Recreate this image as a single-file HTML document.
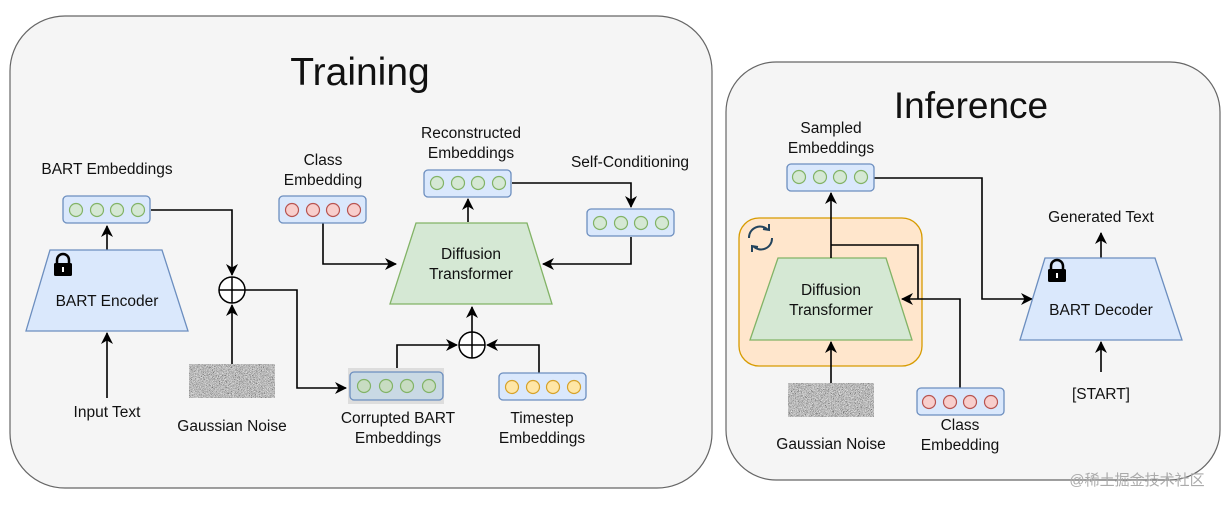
<!DOCTYPE html>
<html><head><meta charset="utf-8"><style>
html,body{margin:0;padding:0;background:#fff;}
svg{display:block;}
text{font-family:"Liberation Sans",Arial,sans-serif;font-size:15.5px;fill:#111;text-anchor:middle;}
</style></head><body>
<svg width="1232" height="505" viewBox="0 0 1232 505" xmlns="http://www.w3.org/2000/svg">
<defs>
<marker id="a" markerWidth="12" markerHeight="12" refX="11" refY="6" orient="auto" markerUnits="userSpaceOnUse">
<path d="M0,0 L12,6 L0,12 L3.5,6 Z" fill="#000"/>
</marker>
<filter id="n" x="0" y="0" width="100%" height="100%">
<feTurbulence type="fractalNoise" baseFrequency="1.5" numOctaves="2" seed="3"/>
<feColorMatrix type="matrix" values="0.9 0.9 0.9 0 -0.85  0.9 0.9 0.9 0 -0.85  0.9 0.9 0.9 0 -0.85  0 0 0 0 1"/>
</filter>
<g id="emb"><rect x="0" y="0" width="87" height="27" rx="4" fill="#dae8fc" stroke="#6c8ebf" stroke-width="1.3"/></g>
</defs>
<rect width="1232" height="505" fill="#fff"/>
<rect x="10" y="16" width="702" height="472" rx="55" fill="#f5f5f5" stroke="#666" stroke-width="1.2"/>
<text x="360" y="85" style="font-size:39px">Training</text>
<rect x="726" y="62" width="494" height="418" rx="50" fill="#f5f5f5" stroke="#666" stroke-width="1.2"/>
<text x="971" y="118" style="font-size:37px">Inference</text>

<g fill="none" stroke="#000" stroke-width="1.6">
<path d="M151,210 H232 V275" marker-end="url(#a)"/>
<path d="M232,364 V305" marker-end="url(#a)"/>
<path d="M245,290 H297 V388 H346" marker-end="url(#a)"/>
<path d="M107,250 V226" marker-end="url(#a)"/>
<path d="M107,398 V333" marker-end="url(#a)"/>
<path d="M323,223 V264 H396" marker-end="url(#a)"/>
<path d="M468,222 V199" marker-end="url(#a)"/>
<path d="M512,183 H631 V207" marker-end="url(#a)"/>
<path d="M631,237 V264 H543" marker-end="url(#a)"/>
<path d="M397,370 V345 H457" marker-end="url(#a)"/>
<path d="M539,373 V345 H487" marker-end="url(#a)"/>
<path d="M472,332 V307" marker-end="url(#a)"/>
</g>

<polygon points="50,250 162,250 188,331 26,331" fill="#dae8fc" stroke="#6c8ebf" stroke-width="1.3"/>
<text x="107" y="306">BART Encoder</text>
<g transform="translate(53,254)"><path d="M4,9 V6 a6,6 0 0 1 12,0 V9" fill="none" stroke="#000" stroke-width="2.5"/><rect x="1" y="9" width="18" height="13" rx="1.5" fill="#000"/><rect x="9" y="13" width="2" height="5" fill="#fff"/></g>

<use href="#emb" x="63" y="196"/>
<g fill="#d5e8d4" stroke="#82b366" stroke-width="1.2"><circle cx="76" cy="210" r="6.5"/><circle cx="97" cy="210" r="6.5"/><circle cx="117" cy="210" r="6.5"/><circle cx="138" cy="210" r="6.5"/></g>
<text x="107" y="174">BART Embeddings</text>
<text x="107" y="417">Input Text</text>

<g fill="#fff" stroke="#000" stroke-width="1.5"><circle cx="232" cy="290" r="13"/><path d="M219,290 H245 M232,277 V303"/></g>
<rect x="189" y="364" width="86" height="34" filter="url(#n)"/>
<text x="232" y="431">Gaussian Noise</text>

<use href="#emb" x="279" y="196"/>
<g fill="#f8cecc" stroke="#b85450" stroke-width="1.2"><circle cx="292" cy="210" r="6.5"/><circle cx="313" cy="210" r="6.5"/><circle cx="333" cy="210" r="6.5"/><circle cx="354" cy="210" r="6.5"/></g>
<text x="323" y="165">Class</text><text x="323" y="185">Embedding</text>

<use href="#emb" x="424" y="170"/>
<g fill="#d5e8d4" stroke="#82b366" stroke-width="1.2"><circle cx="437" cy="183" r="6.5"/><circle cx="458" cy="183" r="6.5"/><circle cx="478" cy="183" r="6.5"/><circle cx="499" cy="183" r="6.5"/></g>
<text x="471" y="138">Reconstructed</text><text x="471" y="158">Embeddings</text>

<use href="#emb" x="587" y="209"/>
<g fill="#d5e8d4" stroke="#82b366" stroke-width="1.2"><circle cx="600" cy="223" r="6.5"/><circle cx="621" cy="223" r="6.5"/><circle cx="641" cy="223" r="6.5"/><circle cx="662" cy="223" r="6.5"/></g>
<text x="630" y="167">Self-Conditioning</text>

<polygon points="416,223 527,223 552,304 390,304" fill="#d5e8d4" stroke="#82b366" stroke-width="1.3"/>
<text x="471" y="259">Diffusion</text><text x="471" y="279">Transformer</text>

<g fill="#fff" stroke="#000" stroke-width="1.5"><circle cx="472" cy="345" r="13"/><path d="M459,345 H485 M472,332 V358"/></g>

<rect x="348" y="368" width="96" height="36" fill="#ddd"/>
<rect x="350" y="372" width="93" height="28" rx="4" fill="#c9d9e4" stroke="#6c8ebf" stroke-width="1.3"/>
<g fill="#c8dcc2" stroke="#82b366" stroke-width="1.2"><circle cx="364" cy="386" r="6.5"/><circle cx="386" cy="386" r="6.5"/><circle cx="407" cy="386" r="6.5"/><circle cx="429" cy="386" r="6.5"/></g>
<text x="398" y="423">Corrupted BART</text><text x="398" y="443">Embeddings</text>

<use href="#emb" x="499" y="373"/>
<g fill="#ffe6a6" stroke="#d6a22a" stroke-width="1.2"><circle cx="512" cy="387" r="6.5"/><circle cx="533" cy="387" r="6.5"/><circle cx="553" cy="387" r="6.5"/><circle cx="574" cy="387" r="6.5"/></g>
<text x="542" y="423">Timestep</text><text x="542" y="443">Embeddings</text>

<rect x="739" y="218" width="183" height="148" rx="20" fill="#ffe6cc" stroke="#d79b00" stroke-width="1.3"/>
<g fill="none" stroke="#23445d" stroke-width="2">
<path d="M749,238 a11,11 0 0 1 19,-8" /><path d="M772,238 a11,11 0 0 1 -19,8"/>
<path d="M763,229 l6,1 l0,-6" /><path d="M758,247 l-6,-1 l0,6"/>
</g>
<polygon points="778,258 886,258 912,340 750,340" fill="#d5e8d4" stroke="#82b366" stroke-width="1.3"/>
<text x="831" y="295">Diffusion</text><text x="831" y="315">Transformer</text>

<g fill="none" stroke="#000" stroke-width="1.6">
<path d="M831,258 V193" marker-end="url(#a)"/>
<path d="M831,245 H918 V299"/>
<path d="M960,388 V299 H902" marker-end="url(#a)"/>
<path d="M831,383 V342" marker-end="url(#a)"/>
<path d="M874,178 H982 V299 H1032" marker-end="url(#a)"/>
<path d="M1101,258 V233" marker-end="url(#a)"/>
<path d="M1101,372 V342" marker-end="url(#a)"/>
</g>

<use href="#emb" x="787" y="164"/>
<g fill="#d5e8d4" stroke="#82b366" stroke-width="1.2"><circle cx="799" cy="177" r="6.5"/><circle cx="820" cy="177" r="6.5"/><circle cx="840" cy="177" r="6.5"/><circle cx="861" cy="177" r="6.5"/></g>
<text x="831" y="133">Sampled</text><text x="831" y="153">Embeddings</text>

<rect x="788" y="383" width="86" height="34" filter="url(#n)"/>
<text x="831" y="449">Gaussian Noise</text>

<use href="#emb" x="917" y="388"/>
<g fill="#f8cecc" stroke="#b85450" stroke-width="1.2"><circle cx="929" cy="402" r="6.5"/><circle cx="950" cy="402" r="6.5"/><circle cx="970" cy="402" r="6.5"/><circle cx="991" cy="402" r="6.5"/></g>
<text x="960" y="430">Class</text><text x="960" y="450">Embedding</text>

<polygon points="1045,258 1155,258 1182,340 1020,340" fill="#dae8fc" stroke="#6c8ebf" stroke-width="1.3"/>
<text x="1101" y="315">BART Decoder</text>
<g transform="translate(1047,260)"><path d="M4,9 V6 a6,6 0 0 1 12,0 V9" fill="none" stroke="#000" stroke-width="2.5"/><rect x="1" y="9" width="18" height="13" rx="1.5" fill="#000"/><rect x="9" y="13" width="2" height="5" fill="#fff"/></g>
<text x="1101" y="222">Generated Text</text>
<text x="1101" y="399">[START]</text>

<text x="1137" y="485" style="font-size:15px;fill:#aaa;font-family:'Liberation Sans','Noto Sans CJK SC',sans-serif">@稀土掘金技术社区</text>
</svg>
</body></html>
